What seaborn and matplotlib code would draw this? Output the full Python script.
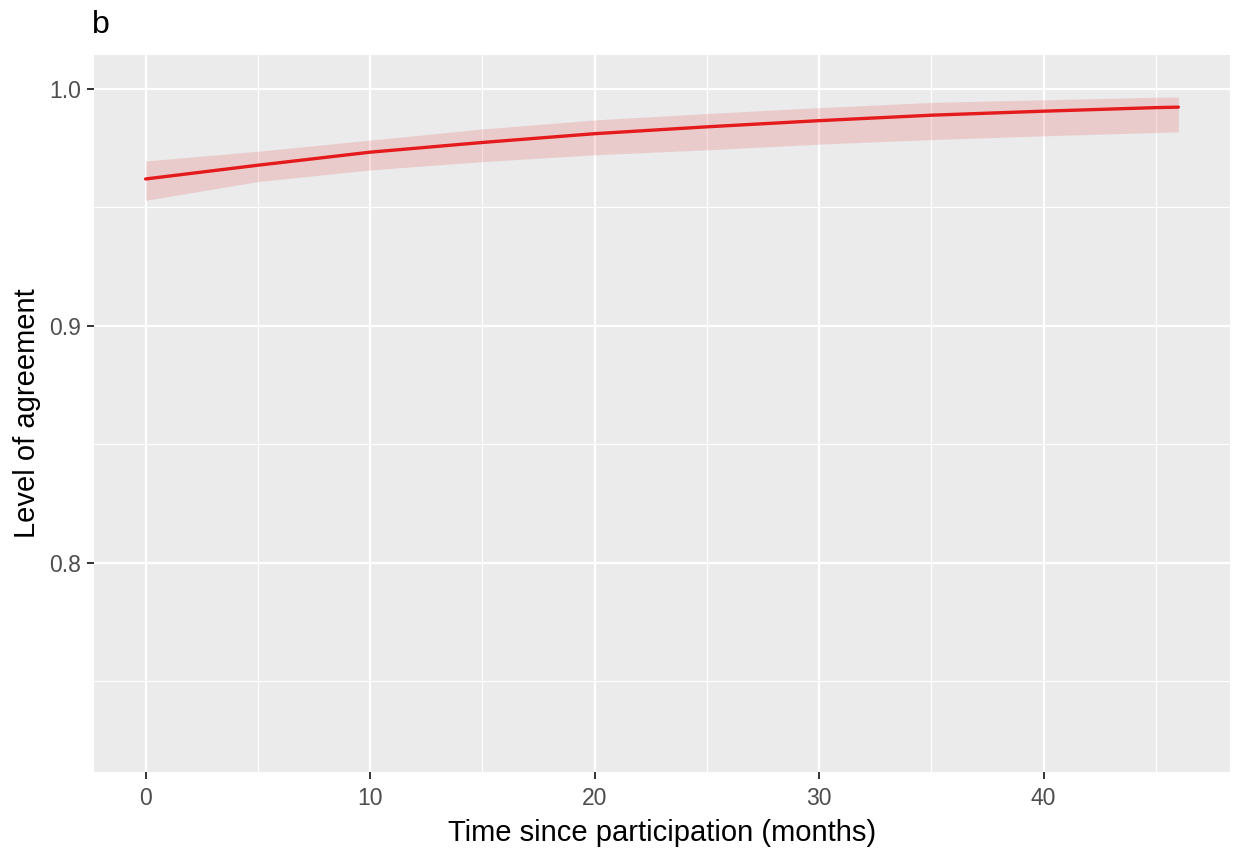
import numpy as np
import pandas as pd
import matplotlib
matplotlib.use("Agg")
import matplotlib.pyplot as plt
import seaborn as sns
from matplotlib.ticker import MultipleLocator

# values
months = [0, 5, 10, 15, 20, 25, 30, 35, 40, 45, 46]
agreement = [0.9620, 0.9678, 0.9733, 0.9774, 0.9811, 0.9840, 0.9866, 0.9889, 0.9906, 0.9921, 0.9923]
ci_low = [0.9530, 0.9609, 0.9658, 0.9693, 0.9722, 0.9743, 0.9767, 0.9786, 0.9802, 0.9816, 0.9819]
ci_high = [0.9696, 0.9737, 0.9784, 0.9831, 0.9869, 0.9896, 0.9921, 0.9943, 0.9954, 0.9965, 0.9966]

df = pd.DataFrame({"months": months, "agreement": agreement,
                   "low": ci_low, "high": ci_high})

sns.set_theme(style="darkgrid", rc={
    "axes.facecolor": "#EBEBEB",
    "grid.color": "white",
    "axes.edgecolor": "#EBEBEB",
    "xtick.bottom": True,
    "ytick.left": True,
    "xtick.color": "#333333",
    "ytick.color": "#333333",
})
plt.rcParams["font.family"] = ["Liberation Sans", "DejaVu Sans"]

fig = plt.figure(figsize=(12.35, 8.5), dpi=100)
ax = fig.add_axes([94 / 1235, 1 - 772 / 850, (1230 - 94) / 1235, (772 - 55) / 850])

ax.fill_between(df["months"], df["low"], df["high"], color="#E41A1C", alpha=0.15,
                linewidth=0, zorder=2)
sns.lineplot(data=df, x="months", y="agreement", color="#E41A1C", linewidth=2.4,
             ax=ax, zorder=3)

ax.set_xlim(-2.3, 48.3)
ax.set_ylim(0.7118, 1.0143)
ax.xaxis.set_major_locator(MultipleLocator(10))
ax.xaxis.set_minor_locator(MultipleLocator(5))
ax.set_yticks([0.8, 0.9, 1.0])
ax.set_yticks([0.75, 0.85, 0.95], minor=True)
ax.set_yticklabels(["0.8", "0.9", "1.0"])

ax.grid(which="major", color="white", linewidth=1.6)
ax.grid(which="minor", color="white", linewidth=0.8)
ax.set_axisbelow(True)
for s in ax.spines.values():
    s.set_visible(False)

ax.tick_params(axis="both", which="major", length=5, width=1.4, labelsize=16.5,
               labelcolor="#4D4D4D", pad=4)
ax.tick_params(axis="x", which="major", pad=6)
ax.tick_params(axis="both", which="minor", length=0)

ax.set_xlabel("Time since participation (months)", fontsize=21, color="black", labelpad=6)
ax.set_ylabel("Level of agreement", fontsize=21, color="black", labelpad=6)
ax.set_title("b", loc="left", fontsize=23, color="black", pad=16, x=-0.002)

fig.savefig("out.png", dpi=100, facecolor="white")
